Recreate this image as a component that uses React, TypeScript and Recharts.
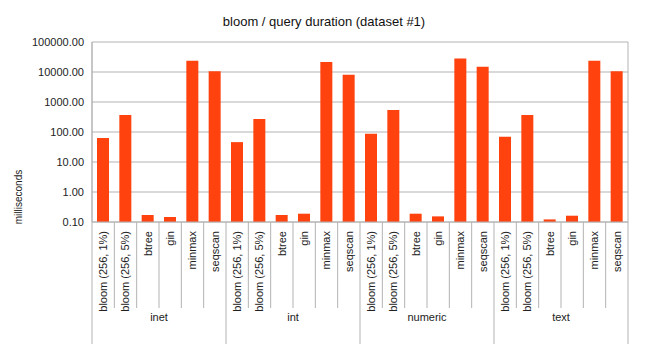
import { BarChart, Bar, XAxis, YAxis, CartesianGrid } from "recharts";

const groups = ["inet", "int", "numeric", "text"];
const methods = ["bloom (256, 1%)", "bloom (256, 5%)", "btree", "gin", "minmax", "seqscan"];

// milliseconds, one list per data type, same order as methods
const inetMs = [63, 370, 0.171, 0.147, 23800, 10500];
const intMs = [46, 271, 0.171, 0.189, 21500, 8100];
const numericMs = [88, 540, 0.189, 0.154, 28400, 15000];
const textMs = [70, 370, 0.122, 0.162, 23800, 10500];

const yTicks = [0.1, 1, 10, 100, 1000, 10000, 100000];

const seriesByGroup = [inetMs, intMs, numericMs, textMs];
const data = groups.flatMap((g, gi) =>
  methods.map((m, mi) => ({ key: `${g}-${m}`, group: g, method: m, ms: seriesByGroup[gi][mi] }))
);

const W = 648;
const H = 360;
const M = { top: 42, right: 20, bottom: 13, left: 0 };
const Y_AXIS_W = 92;
const X_AXIS_H = 125;
const PLOT_BOTTOM = H - M.bottom - X_AXIS_H;
const BAND = (W - M.right - Y_AXIS_W) / data.length;
const LINE = "#b3b3b3";
const FONT = "'Liberation Sans', Arial, sans-serif";

function CategoryTick(props: any) {
  const { x, index } = props;
  const row = data[index];
  if (!row) return null;
  const left = x - BAND / 2;
  const labelY = PLOT_BOTTOM + 9;
  const first = index % methods.length === 0;
  const last = index === data.length - 1;
  return (
    <g>
      <line x1={left} x2={left} y1={PLOT_BOTTOM} y2={first ? 344 : 308} stroke={LINE} />
      {last && <line x1={left + BAND} x2={left + BAND} y1={PLOT_BOTTOM} y2={344} stroke={LINE} />}
      <text
        x={x}
        y={labelY}
        dy="0.35em"
        textAnchor="end"
        transform={`rotate(-90, ${x}, ${labelY})`}
        fontSize={11}
        fill="#222"
        fontFamily={FONT}
      >
        {row.method}
      </text>
      {first && (
        <text
          x={left + BAND * methods.length / 2}
          y={321}
          textAnchor="middle"
          fontSize={11}
          fill="#222"
          fontFamily={FONT}
        >
          {row.group}
        </text>
      )}
    </g>
  );
}

export default function App() {
  return (
    <div style={{ position: "absolute", left: 0, top: 0, width: W, height: H, background: "#fff" }}>
      <div
        style={{
          position: "absolute",
          left: 0,
          top: 14,
          width: W,
          textAlign: "center",
          fontFamily: FONT,
          fontSize: 13,
          color: "#111",
        }}
      >
        bloom / query duration (dataset #1)
      </div>
      <BarChart width={W} height={H} data={data} margin={M} barSize={12}>
        <CartesianGrid
          stroke={LINE}
          verticalCoordinatesGenerator={({ offset }: any) => [offset.left, offset.left + offset.width]}
        />
        <XAxis
          dataKey="key"
          interval={0}
          height={X_AXIS_H}
          tickLine={false}
          axisLine={{ stroke: LINE }}
          tick={<CategoryTick />}
        />
        <YAxis
          scale="log"
          domain={[0.1, 100000]}
          ticks={yTicks}
          allowDataOverflow
          width={Y_AXIS_W}
          tickLine={false}
          tickSize={0}
          tickMargin={8}
          axisLine={{ stroke: LINE }}
          tickFormatter={(v: number) => v.toFixed(2)}
          tick={{ fontSize: 11, fill: "#222", fontFamily: FONT }}
          label={{
            content: () => (
              <text
                x={18}
                y={197}
                textAnchor="middle"
                dy="0.35em"
                transform="rotate(-90, 18, 197)"
                fontSize={10}
                fill="#222"
                fontFamily={FONT}
              >
                milliseconds
              </text>
            ),
          }}
        />
        <Bar dataKey="ms" fill="#ff420e" isAnimationActive={false} />
      </BarChart>
    </div>
  );
}
